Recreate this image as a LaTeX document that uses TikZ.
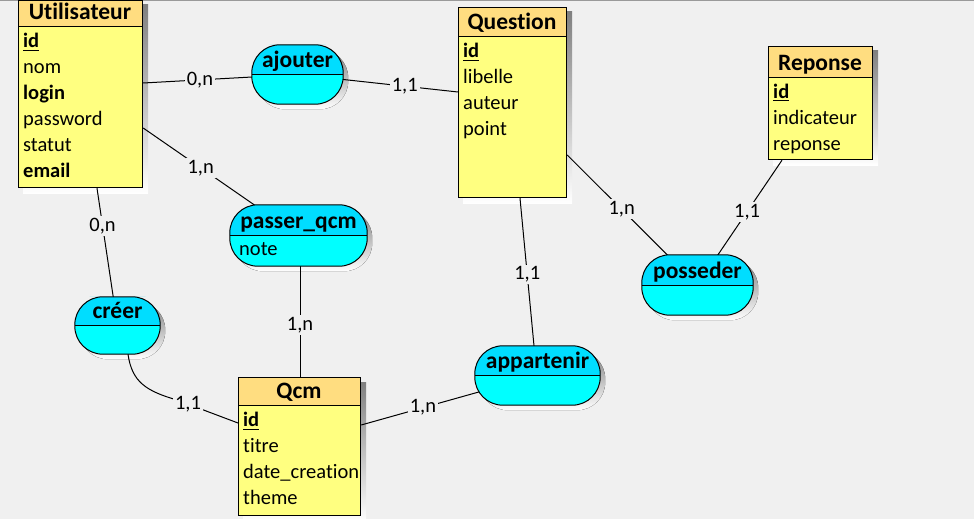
\documentclass[tikz,border=0pt]{standalone}
\usepackage{fontspec}
\setmainfont{Carlito}[Ligatures=NoCommon]
\usetikzlibrary{calc}
\definecolor{bgc}{HTML}{F0F0F0}
\definecolor{enthd}{HTML}{FFDD80}
\definecolor{entbd}{HTML}{FFFF80}
\definecolor{astop}{HTML}{00DDFF}
\definecolor{asbot}{HTML}{00FFFF}
\definecolor{shade}{HTML}{C0C0C0}
\definecolor{topline}{HTML}{9A9A9A}
\pgfdeclarelayer{bglayer}
\pgfdeclarelayer{shadowlayer}
\pgfdeclarelayer{linelayer}
\pgfsetlayers{bglayer,shadowlayer,linelayer,main}
\newcommand\myattrfont{\fontsize{20.5}{24}\selectfont}
\newcommand\mytitlefont{\fontsize{23.5}{27}\selectfont\bfseries}
\newcommand\keyattr[1]{\vtop{\hbox{\textbf{#1}}\kern2pt\hrule height1.3pt}}
\tikzset{
  entshape/.style={draw=black, line width=1.2pt, fill=entbd, inner sep=0pt, rectangle},
  enthead/.style={draw=black, line width=1.2pt, fill=enthd, inner sep=0pt, rectangle},
  asround/.style={rounded corners=28pt},
  asshape/.style={fill=asbot, inner sep=0pt, rectangle, asround},
  asline/.style={draw=black, line width=1pt},
  ttl/.style={font=\mytitlefont, inner sep=0pt, anchor=base},
  attr/.style={font=\myattrfont, inner sep=0pt, anchor=base west},
  link/.style={draw=black, line width=1pt},
  card/.style={fill=bgc, inner sep=2pt, font=\myattrfont},
}
% name, x1, y1, x2, y2, header bottom, title
\newcommand\entitybox[7]{%
  \node[entshape, minimum width={#4-#2}, minimum height={#5-#3}, anchor=north west] (#1) at (#2,#3) {};
  \begin{pgfonlayer}{shadowlayer}
    \fill[shade] ([shift={(5pt,-5pt)}]#1.north west) rectangle ([shift={(5pt,-5pt)}]#1.south east);
  \end{pgfonlayer}
  \node[enthead, minimum width={#4-#2}, minimum height={#6-#3}, anchor=north west] (#1-h) at (#1.north west) {};
  \node[ttl] (#1-t) at ({(#2+#4)/2},{#6-6.5}) {#7};
}
% name, x, first baseline, list
\newcommand\attrlist[4]{%
  \foreach \attrname [count=\attrnum] in {#4}
    \node[attr] (#1-a\attrnum) at (#2,{#3+26*(\attrnum-1)}) {\attrname};
}
% name, x1, y1, x2, y2, title
\newcommand\assocbox[6]{%
  \node[asshape, minimum width={#4-#2}, minimum height={#5-#3}] (#1) at ({(#2+#4)/2},{(#3+#5)/2}) {};
  \begin{pgfonlayer}{shadowlayer}
    \fill[shade, asround] ([shift={(5pt,-5pt)}]#1.north west) rectangle ([shift={(5pt,-5pt)}]#1.south east);
  \end{pgfonlayer}
  \fill[astop, asround] (#1.west) |- (#1.north) -| (#1.east);
  \draw[asline] (#1.west) -- (#1.east);
  \draw[asline, asround] (#1.north west) rectangle (#1.south east);
  \node[ttl] (#1-t) at ({(#2+#4)/2},{(#3+#5)/2-7}) {#6};
}
\begin{document}
\begin{tikzpicture}[x=1pt,y=-1pt]
\useasboundingbox (0,0) rectangle (974,519);
\begin{pgfonlayer}{bglayer}
  \fill[bgc] (0,0) rectangle (974,519);
  \draw[topline, line width=1.5pt] (0,0.75) -- (974,0.75);
\end{pgfonlayer}

% entities
\entitybox{utilisateur}{18}{0}{142}{187}{26}{Utilisateur}
\attrlist{utilisateur}{23}{47.5}{{\keyattr{id}},nom,{\textbf{login}},password,statut,{\textbf{email}}}
\entitybox{question}{458}{7}{566}{197}{36}{Question}
\attrlist{question}{463}{57.5}{{\keyattr{id}},libelle,auteur,point}
\entitybox{reponse}{768}{46}{872}{159}{77}{Reponse}
\attrlist{reponse}{773}{98}{{\keyattr{id}},indicateur,reponse}
\entitybox{qcm}{238}{377}{360}{515}{405}{Qcm}
\attrlist{qcm}{243}{426.5}{{\keyattr{id}},titre,{date\_creation},theme}

% associations
\assocbox{ajouter}{252}{45}{343}{104}{ajouter}
\assocbox{passer}{230}{205}{367}{266}{passer\_qcm}
\node[attr] (passer-a1) at (239,255) {note};
\assocbox{creer}{75}{297}{160}{354}{créer}
\assocbox{appartenir}{475}{346}{600}{405}{appartenir}
\assocbox{posseder}{642}{255}{753}{315}{posseder}

% connectors
\begin{pgfonlayer}{linelayer}
\draw[link] (utilisateur.east |- 0,83) -- node[card,pos=0.368]{0,n} (ajouter.center);
\draw[link] (ajouter.center) -- node[card,pos=0.668]{1,1} (question.west |- 0,92);
\draw[link] (utilisateur.east |- 0,128) -- node[card,pos=0.37]{1,n} (passer.center);
\draw[link] (utilisateur.south -| 97,0) -- node[card,pos=0.274]{0,n} (creer.center);
\draw[link] (creer.south -| 128,0) .. controls (132,382) and (146,391) .. (177,400)
  -- node[card,pos=0.18]{1,1} (qcm.west |- 0,423);
\draw[link] (passer.center -| 300,0) -- node[card,pos=0.632]{1,n} (qcm.north -| 300,0);
\draw[link] (question.south -| 520,0) -- node[card,pos=0.517]{1,1} (appartenir.north -| 534,0);
\draw[link] (qcm.east |- 0,425) -- node[card,pos=0.35]{1,n} (appartenir.center);
\draw[link] (question.east |- 0,155) -- node[card,pos=0.418]{1,n} (posseder.center);
\draw[link] (reponse.south -| 782,0) -- node[card,pos=0.413]{1,1} (posseder.center);
\end{pgfonlayer}
\end{tikzpicture}
\end{document}
